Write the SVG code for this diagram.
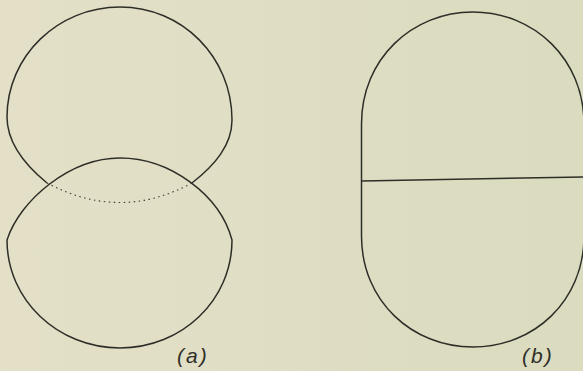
<svg xmlns="http://www.w3.org/2000/svg" width="583" height="371" viewBox="0 0 583 371">
<defs>
<linearGradient id="bg" x1="0" y1="0" x2="1" y2="0">
<stop offset="0" stop-color="#e4e0c8"/>
<stop offset="1" stop-color="#dadbbf"/>
</linearGradient>
</defs>
<style>
.ln{fill:none;stroke:#2e2e28;stroke-width:1.5;stroke-linejoin:round}
.dot{fill:none;stroke:#3a3a33;stroke-width:1.1;stroke-dasharray:1.5 3.5}
.lbl{font-family:"Liberation Sans",Arial,sans-serif;font-style:italic;font-size:21px;fill:#2e2e28;letter-spacing:2px}
</style>
<rect width="583" height="371" fill="url(#bg)"/>
<g id="figure-a">
<path id="upper-sphere" class="ln" d="M47,183 C25,165 7,142 7,117 C7,56 58,7 120,7 C182,7 232,57 232,120 C232,145 215,165 192,183"/>
<path id="hidden-arc" class="dot" d="M47,183 Q120,222 192,183"/>
<path id="lower-sphere" class="ln" d="M7,240 C20,200 70,158 120,158 C170,158 220,195 232,240 C232,300 182,348 120,348 C58,348 7,300 7,240 Z"/>
<text class="lbl" x="177" y="363">(a)</text>
</g>
<g id="figure-b">
<path id="capsule" class="ln" d="M361.5,124 C361.5,59 412,12 473,12 C534,12 584,59 584,124 L584,236 C584,301 534,347 473,347 C412,347 361.5,301 361.5,236 Z"/>
<path id="divider" class="ln" d="M361.5,181 L584,177"/>
<text class="lbl" x="522" y="363">(b)</text>
</g>
</svg>
